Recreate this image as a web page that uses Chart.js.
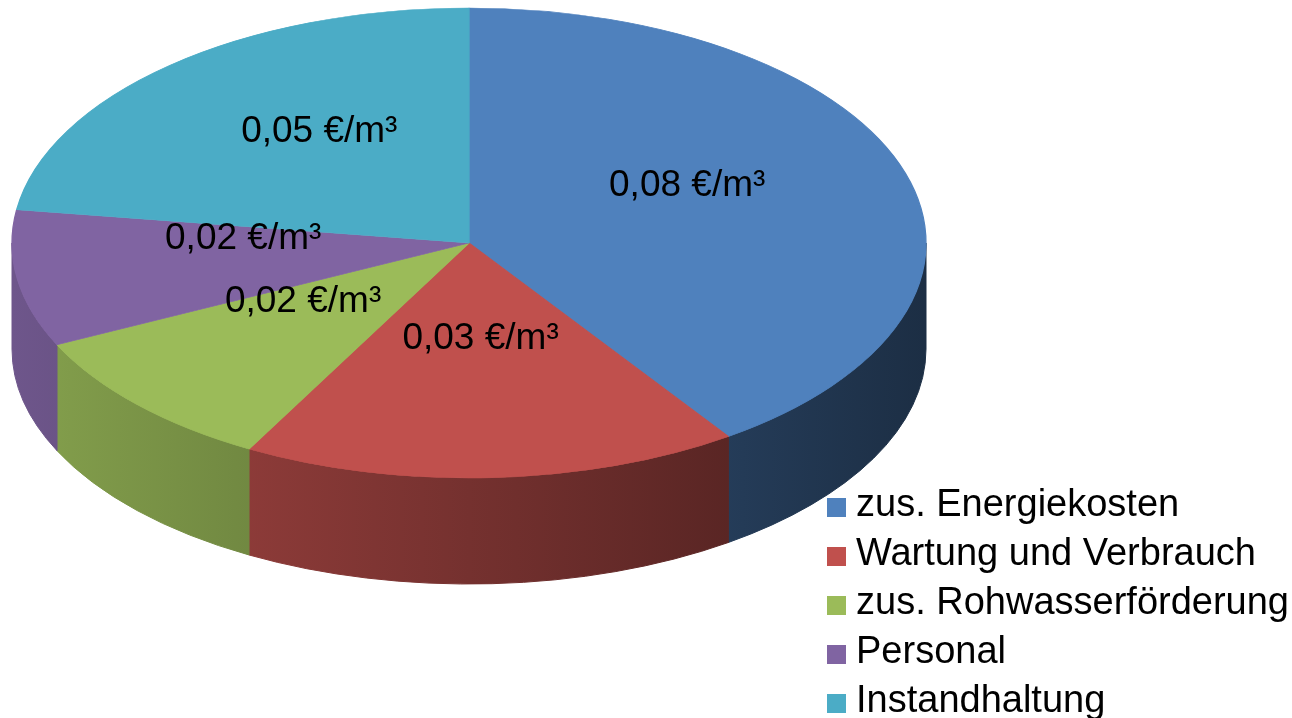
<!DOCTYPE html>
<html lang="de">
<head>
<meta charset="utf-8">
<title>Zusätzliche Kosten</title>
<script src="https://cdn.jsdelivr.net/npm/chart.js@4.4.1/dist/chart.umd.min.js"></script>
<style>
  html, body { margin: 0; padding: 0; background: #ffffff; overflow: hidden; }
  #wrap { width: 1292px; height: 718px; }
</style>
</head>
<body>
<div id="wrap"><canvas id="pieChart" width="1292" height="718"></canvas></div>
<script>
'use strict';

// ***** DATA *****
let costLabels = ['zus. Energiekosten', 'Wartung und Verbrauch', 'zus. Rohwasserförderung', 'Personal', 'Instandhaltung'];
let costValues = [0.0801, 0.0349, 0.0196, 0.0186, 0.0451];
let costUnit = '€/m³';
let sliceColors = ['#4f81bd', '#c0504d', '#9bbb59', '#8064a2', '#4bacc6'];

// ***** LAYOUT (pixels) *****
const pieX = 469;
const pieY = 243;
const radX = 457;
const radY = 235;
const wallDepth = 106;
const labelLift = 22;
const fontFamily = '"Liberation Sans", Arial, sans-serif';

const canvasElem = document.getElementById('pieChart');

// ***** HELPERS *****
function shade(hex, f){
  let r = parseInt(hex.slice(1, 3), 16);
  let g = parseInt(hex.slice(3, 5), 16);
  let b = parseInt(hex.slice(5, 7), 16);
  return `rgb(${Math.round(r * f)}, ${Math.round(g * f)}, ${Math.round(b * f)})`;
}

function formatValue(v){
  return v.toFixed(2).replace('.', ',') + ' ' + costUnit;
}

// front walls of the slices, drawn before the top faces
function drawWalls(chart){
  let ctx = chart.ctx;
  let arcs = chart.getDatasetMeta(0).data;
  for(let i = 0; i < arcs.length; i++){
    let start = Math.max(arcs[i].startAngle, 0);
    let end = Math.min(arcs[i].endAngle, Math.PI);
    if(end <= start){
      continue;
    }
    let grad = ctx.createLinearGradient(pieX - radX, 0, pieX + radX, 0);
    grad.addColorStop(0, shade(sliceColors[i], 0.86));
    grad.addColorStop(1, shade(sliceColors[i], 0.36));
    ctx.beginPath();
    ctx.ellipse(pieX, pieY, radX, radY, 0, start, end);
    ctx.ellipse(pieX, pieY + wallDepth, radX, radY, 0, end, start, true);
    ctx.closePath();
    ctx.fillStyle = grad;
    ctx.fill();
    ctx.strokeStyle = grad;
    ctx.lineWidth = 1;
    ctx.stroke();
  }
}

function drawLabels(chart){
  let ctx = chart.ctx;
  let arcs = chart.getDatasetMeta(0).data;
  ctx.save();
  ctx.font = `37px ${fontFamily}`;
  ctx.fillStyle = '#000000';
  ctx.textAlign = 'center';
  ctx.textBaseline = 'middle';
  for(let i = 0; i < arcs.length; i++){
    let mid = (arcs[i].startAngle + arcs[i].endAngle) / 2;
    let x = pieX + radX * 0.5 * Math.cos(mid);
    let y = pieY + radY * 0.5 * Math.sin(mid) - labelLift;
    ctx.fillText(formatValue(costValues[i]), x, y);
  }
  ctx.restore();
}

function drawLegend(chart){
  let ctx = chart.ctx;
  ctx.save();
  ctx.font = `38px ${fontFamily}`;
  ctx.textAlign = 'left';
  ctx.textBaseline = 'middle';
  for(let i = 0; i < costLabels.length; i++){
    let rowY = 507 + i * 49;
    ctx.fillStyle = sliceColors[i];
    ctx.fillRect(827, rowY - 9, 19, 19);
    ctx.fillStyle = '#000000';
    ctx.fillText(costLabels[i], 856, rowY - 1);
  }
  ctx.restore();
}

// ***** PLUGIN: flatten the pie into a tilted disc *****
let tiltPlugin = {
  id: 'tilt',
  beforeDatasetsDraw(chart){
    drawWalls(chart);
    let arc0 = chart.getDatasetMeta(0).data[0];
    let r = arc0.outerRadius;
    let ctx = chart.ctx;
    ctx.save();
    ctx.translate(pieX, pieY);
    ctx.scale(radX / r, radY / r);
    ctx.translate(-arc0.x, -arc0.y);
  },
  afterDatasetsDraw(chart){
    chart.ctx.restore();
    drawLabels(chart);
    drawLegend(chart);
  }
};

// ***** CHART *****
new Chart(canvasElem, {
  type: 'pie',
  data: {
    labels: costLabels,
    datasets: [{
      data: costValues,
      backgroundColor: sliceColors,
      borderColor: sliceColors,
      borderWidth: 1,
      clip: false
    }]
  },
  options: {
    responsive: false,
    animation: false,
    layout: { padding: 0 },
    plugins: {
      legend: { display: false },
      tooltip: { enabled: false }
    }
  },
  plugins: [tiltPlugin]
});
</script>
</body>
</html>
